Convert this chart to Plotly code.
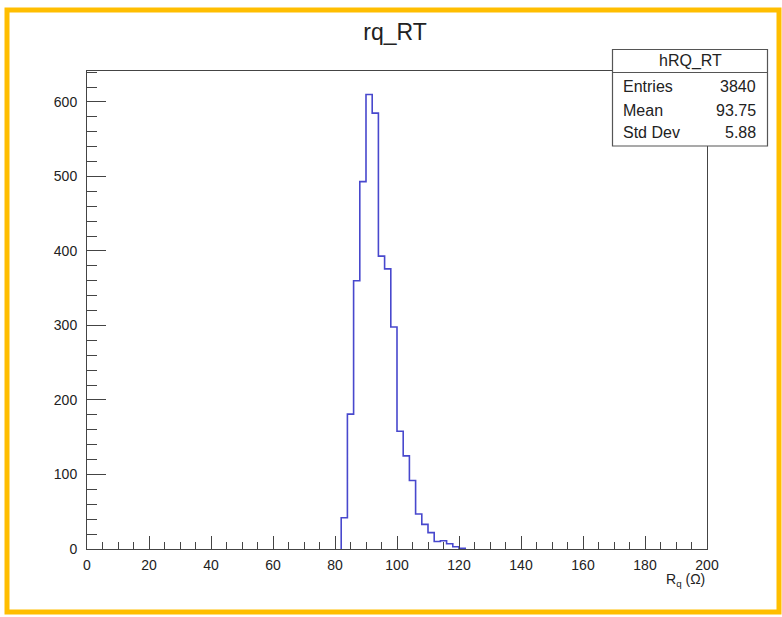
import plotly.graph_objects as go

# ---- data ----
bin_width = 2
first_bin_low = 82
counts = [42, 181, 360, 493, 610, 585, 393, 376, 298, 158,
          125, 92, 47, 33, 22, 10, 11, 7, 3, 1]
hist_name = "hRQ_RT"
title_text = "rq_RT"
stats_labels = ["Entries", "Mean", "Std Dev"]
stats_values = ["3840", "93.75", "5.88"]
x_range = [0, 200]
y_max = 641.5

# step outline built from bin edges
edges = [first_bin_low + i * bin_width for i in range(len(counts) + 1)]
xs = [edges[0]] + edges + [edges[-1]]
ys = [0] + counts + [counts[-1], 0]

W, H = 782, 617
L, R, T, B = 87, 707, 71, 549
pw, ph = R - L, B - T


def px(x):
    return (x - L) / pw


def py(y):
    return (B - y) / ph


fig = go.Figure()
fig.add_trace(go.Scatter(
    x=xs, y=ys, mode="lines", line_shape="hv",
    line=dict(color="rgb(72,72,205)", width=1.6),
    hoverinfo="skip", showlegend=False))

font_main = "Liberation Sans, Arial, sans-serif"

fig.update_layout(
    width=W, height=H,
    margin=dict(l=L, r=W - R, t=T, b=H - B),
    paper_bgcolor="white", plot_bgcolor="white",
    showlegend=False,
    title=dict(text=title_text, x=395 / W, y=1 - 32 / H,
               xanchor="center", yanchor="middle",
               font=dict(family=font_main, size=23, color="#222")),
    xaxis=dict(range=x_range, showgrid=False, zeroline=False,
               showline=True, mirror=True, linecolor="#444", linewidth=1,
               ticks="inside", ticklen=13, tickcolor="#444", dtick=20,
               tick0=0,
               minor=dict(ticks="inside", ticklen=7, dtick=5,
                          tickcolor="#444", showgrid=False),
               tickfont=dict(family=font_main, size=14, color="#222"),
               ticklabelstandoff=3),
    yaxis=dict(range=[0, y_max], showgrid=False, zeroline=False,
               showline=True, mirror=True, linecolor="#444", linewidth=1,
               ticks="inside", ticklen=19, tickcolor="#444", dtick=100,
               tick0=0,
               minor=dict(ticks="inside", ticklen=10, dtick=20,
                          tickcolor="#444", showgrid=False),
               tickfont=dict(family=font_main, size=14, color="#222"),
               ticklabelstandoff=6),
)

shapes = []
# orange outer border
shapes.append(dict(type="rect", xref="paper", yref="paper",
                   x0=px(7), x1=px(779), y0=py(612), y1=py(10),
                   line=dict(color="rgb(255,190,0)", width=5),
                   fillcolor="rgba(0,0,0,0)", layer="above"))
# stats box
bx0, bx1, by0, by1 = 612.5, 767.5, 49.5, 146
shapes.append(dict(type="rect", xref="paper", yref="paper",
                   x0=px(bx0), x1=px(bx1), y0=py(by1), y1=py(by0),
                   line=dict(color="#555", width=1.2),
                   fillcolor="white", layer="above"))
shapes.append(dict(type="line", xref="paper", yref="paper",
                   x0=px(bx0), x1=px(bx1), y0=py(72.5), y1=py(72.5),
                   line=dict(color="#555", width=1.2), layer="above"))
fig.update_layout(shapes=shapes)

ann = []
ann.append(dict(text=hist_name, xref="paper", yref="paper",
                x=px((bx0 + bx1) / 2), y=py(61), xanchor="center",
                yanchor="middle", showarrow=False,
                font=dict(family=font_main, size=16, color="#222")))
row_y = [87, 110, 133]
for lab, val, yy in zip(stats_labels, stats_values, row_y):
    ann.append(dict(text=lab, xref="paper", yref="paper", x=px(621),
                    y=py(yy), xanchor="left", yanchor="middle",
                    showarrow=False,
                    font=dict(family=font_main, size=16, color="#222")))
    ann.append(dict(text=val, xref="paper", yref="paper", x=px(758),
                    y=py(yy), xanchor="right", yanchor="middle",
                    showarrow=False,
                    font=dict(family=font_main, size=16, color="#222")))
ann.append(dict(text="R<sub>q</sub> (Ω)", xref="paper", yref="paper",
                x=px(707), y=py(580), xanchor="right", yanchor="middle",
                showarrow=False,
                font=dict(family=font_main, size=14, color="#222")))
fig.update_layout(annotations=ann)

fig.write_html("out.html",
               config={"displayModeBar": False},
               post_script="document.body.style.margin='0';"
                           "document.body.style.overflow='hidden';")
